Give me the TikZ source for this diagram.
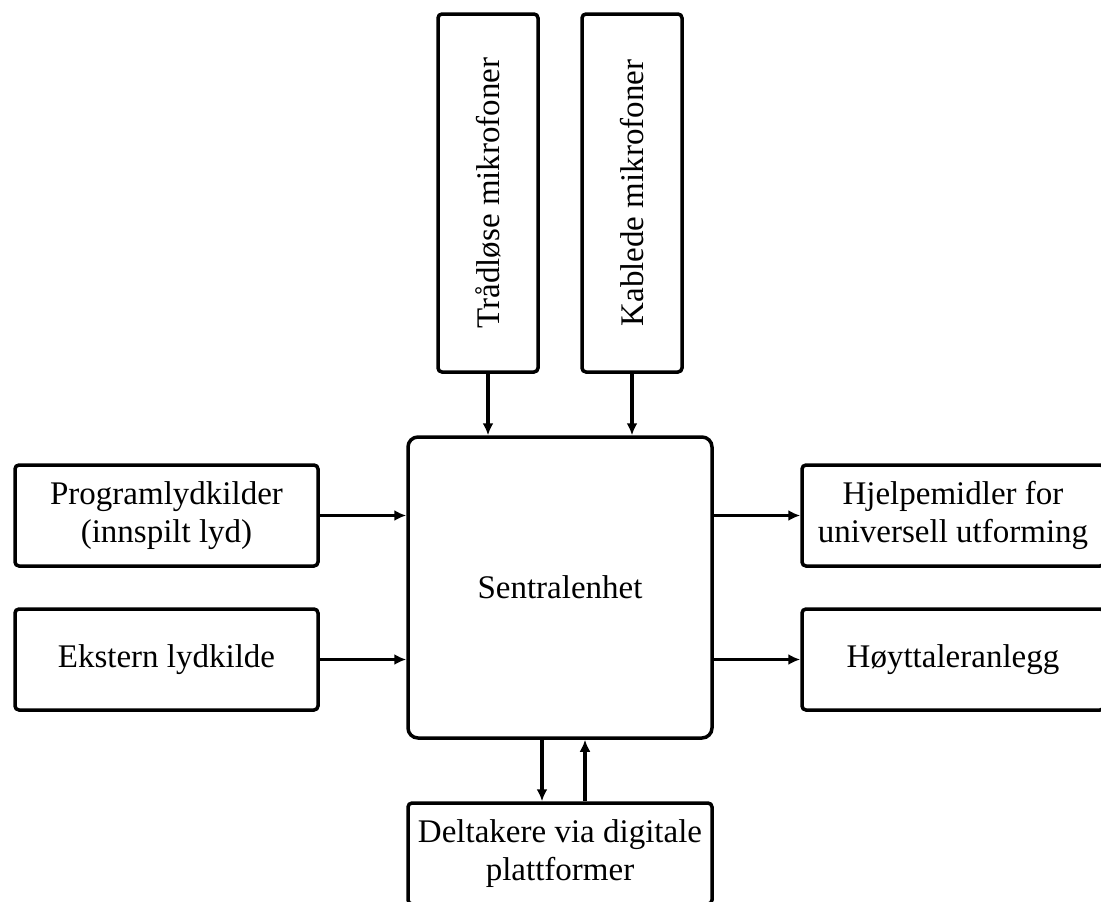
\documentclass[tikz,border=0pt]{standalone}
\usepackage{fontspec}
\setmainfont{Liberation Serif}
\usepackage{graphicx}
\usetikzlibrary{arrows.meta, calc}
\tikzset{>={Latex[length=12pt,width=11pt]}}
\tikzset{
    box/.style={draw, line width=3.5pt, rounded corners=4pt, align=center, inner sep=0pt, font=\fontsize{33}{38}\selectfont},
    hub/.style={box, rounded corners=10pt},
    flow/.style={->, line width=3.2pt}
}

\begin{document}
\begin{tikzpicture}[x=1pt,y=-1pt]
    \useasboundingbox (0,0) rectangle (1101,902);
    \node[box,minimum width=100,minimum height=358] (trad) at (488,193) {\rotatebox{90}{Trådløse mikrofoner}};
    \node[box,minimum width=100,minimum height=358] (kabl) at (632,193) {\rotatebox{90}{Kablede mikrofoner}};
    \node[hub,minimum width=304,minimum height=301] (sentral) at (560,587.5) {Sentralenhet};
    \node[box,minimum width=303,minimum height=101] (prog) at (166.5,515.5) {Programlydkilder\\(innspilt lyd)};
    \node[box,minimum width=303,minimum height=101] (ekst) at (166.5,659.5) {Ekstern lydkilde};
    \node[box,minimum width=302,minimum height=101] (hjelp) at (953,515.5) {Hjelpemidler for\\universell utforming};
    \node[box,minimum width=302,minimum height=101] (hoyt) at (953,659.5) {Høyttaleranlegg};
    \node[box,minimum width=304,minimum height=101] (delt) at (560,853.5) {Deltakere via digitale\\plattformer};
    % inn til sentralen
    \draw[flow] (trad.south) -- (trad.south |- sentral.north);
    \draw[flow] (kabl.south) -- (kabl.south |- sentral.north);
    \draw[flow] (prog.east) -- (prog.east -| sentral.west);
    \draw[flow] (ekst.east) -- (ekst.east -| sentral.west);
    % ut fra sentralen
    \draw[flow] (hjelp.west -| sentral.east) -- (hjelp.west);
    \draw[flow] (hoyt.west -| sentral.east) -- (hoyt.west);
    % digitale deltakere, begge veier
    \draw[flow] ($(sentral.south)+(-18,0)$) -- ($(delt.north)+(-18,0)$);
    \draw[flow] ($(delt.north)+(25,0)$) -- ($(sentral.south)+(25,0)$);
\end{tikzpicture}
\end{document}
